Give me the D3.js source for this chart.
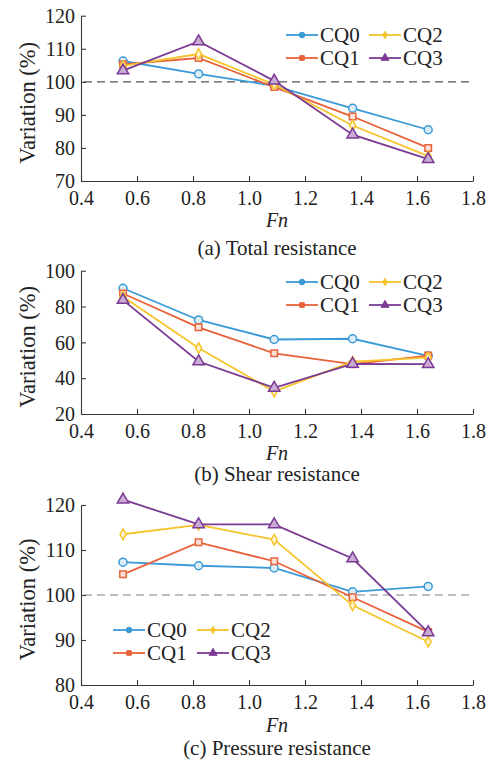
<!DOCTYPE html>
<html>
<head>
<meta charset="utf-8">
<script src="https://cdn.jsdelivr.net/npm/d3@7"></script>
<style>
  html, body { margin: 0; padding: 0; background: #fff; }
  svg { display: block; }
  svg text { font-family: "Liberation Serif", "Times New Roman", serif; fill: #222; }
</style>
</head>
<body>
<svg id="chart" width="493" height="762" font-family="Liberation Serif, serif"></svg>
<script>
// Froude numbers sampled
const fn = [0.55, 0.82, 1.09, 1.37, 1.64];
const seriesNames = ["CQ0", "CQ1", "CQ2", "CQ3"];
const xTicks = [0.4, 0.6, 0.8, 1.0, 1.2, 1.4, 1.6, 1.8];

// (a) Total resistance variation (%)
const totalCQ0 = [106.3, 102.4, 98.8, 92.0, 85.5];
const totalCQ1 = [105.3, 107.2, 98.4, 89.5, 80.0];
const totalCQ2 = [104.8, 108.4, 99.2, 86.8, 77.5];
const totalCQ3 = [103.4, 112.2, 100.3, 84.0, 76.6];
const totalTicks = [70, 80, 90, 100, 110, 120];

// (b) Shear resistance variation (%)
const shearCQ0 = [90.2, 72.5, 61.6, 62.0, 52.5];
const shearCQ1 = [87.3, 68.4, 53.9, 47.8, 52.6];
const shearCQ2 = [85.5, 56.8, 32.6, 49.2, 51.5];
const shearCQ3 = [83.6, 49.3, 34.6, 48.0, 47.8];
const shearTicks = [20, 40, 60, 80, 100];

// (c) Pressure resistance variation (%)
const pressCQ0 = [107.3, 106.5, 106.0, 100.7, 101.9];
const pressCQ1 = [104.6, 111.7, 107.5, 99.5, 91.8];
const pressCQ2 = [113.5, 115.6, 112.3, 97.7, 89.6];
const pressCQ3 = [121.2, 115.7, 115.7, 108.1, 91.7];
const pressTicks = [80, 90, 100, 110, 120];

const colors = ["#3a9ad8", "#e8623a", "#f5c42a", "#7b3a93"];
const markerFill = ["#dcedf8", "#fbe1d8", "#fdf3d2", "#c9acd4"];
const symbols = [d3.symbolCircle, d3.symbolSquare, d3.symbolDiamond, d3.symbolTriangle];
const symSizes = [50, 42, 32, 56];
const FONT = '"Liberation Serif", "Times New Roman", serif';

const panels = [
  { top: 15.7, bottom: 181, domain: [70, 120], ticks: totalTicks,
    series: [totalCQ0, totalCQ1, totalCQ2, totalCQ3],
    refLine: 100, refColor: "#555", caption: "(a) Total resistance",
    fnOff: 46, capOff: 74, legend: { x: 320, y: 35, dx: 83 } },
  { top: 270.7, bottom: 414, domain: [20, 100], ticks: shearTicks,
    series: [shearCQ0, shearCQ1, shearCQ2, shearCQ3],
    refLine: null, caption: "(b) Shear resistance",
    fnOff: 46, capOff: 67, legend: { x: 320, y: 282, dx: 83 } },
  { top: 505, bottom: 685, domain: [80, 120], ticks: pressTicks,
    series: [pressCQ0, pressCQ1, pressCQ2, pressCQ3],
    refLine: 100, refColor: "#a3adb4", caption: "(c) Pressure resistance",
    fnOff: 47, capOff: 70, legend: { x: 147, y: 630, dx: 84 } }
];

const svg = d3.select("#chart");
const x = d3.scaleLinear().domain([0.4, 1.8]).range([81, 473]);

panels.forEach(p => {
  const g = svg.append("g");
  const y = d3.scaleLinear().domain(p.domain).range([p.bottom, p.top]);

  // reference line at 100 %
  if (p.refLine !== null) {
    g.append("line")
      .attr("x1", x(0.4) + 3).attr("x2", x(1.8))
      .attr("y1", y(p.refLine)).attr("y2", y(p.refLine))
      .attr("stroke", p.refColor).attr("stroke-width", 1.3)
      .attr("stroke-dasharray", "8,5");
  }

  // axes with inward ticks
  const xAxis = d3.axisBottom(x).tickValues(xTicks).tickFormat(d3.format(".1f"))
    .tickSizeInner(-5).tickSizeOuter(0).tickPadding(7);
  const gx = g.append("g").attr("transform", `translate(0,${p.bottom})`).call(xAxis);
  const yAxis = d3.axisLeft(y).tickValues(p.ticks).tickFormat(d3.format("d"))
    .tickSizeInner(-5).tickSizeOuter(0).tickPadding(6);
  const gy = g.append("g").attr("transform", `translate(${x(0.4)},0)`).call(yAxis);
  [gx, gy].forEach(a => {
    a.attr("font-family", FONT).attr("font-size", 20);
    a.selectAll("path, line").attr("stroke", "#3a3a3a").attr("stroke-width", 1.1);
    a.selectAll("text").style("font-family", FONT)
      .style("font-size", "20px").attr("fill", "#222");
  });
  gx.selectAll("text").attr("dy", "0.85em");
  gy.selectAll("text").attr("dy", "0.34em");

  // axis titles and caption
  g.append("text")
    .attr("transform", `translate(35,${(p.top + p.bottom) / 2 + 4.5}) rotate(-90)`)
    .attr("text-anchor", "middle").style("font-size", "22.5px")
    .style("font-family", FONT).text("Variation (%)");
  g.append("text")
    .attr("x", x(1.1)).attr("y", p.bottom + p.fnOff)
    .attr("text-anchor", "middle").style("font-size", "20px")
    .style("font-family", FONT).style("font-style", "italic").text("Fn");
  g.append("text")
    .attr("x", x(1.1)).attr("y", p.bottom + p.capOff)
    .attr("text-anchor", "middle").style("font-size", "21px")
    .style("font-family", FONT).text(p.caption);

  // series lines and markers
  const line = d3.line().x((d, i) => x(fn[i])).y(d => y(d));
  p.series.forEach((vals, s) => {
    g.append("path").datum(vals)
      .attr("d", line).attr("fill", "none")
      .attr("stroke", colors[s]).attr("stroke-width", 1.8);
    g.selectAll(null).data(vals).enter().append("path")
      .attr("transform", (d, i) => `translate(${x(fn[i])},${y(d)})`)
      .attr("d", d3.symbol().type(symbols[s]).size(symSizes[s]))
      .attr("fill", markerFill[s])
      .attr("stroke", colors[s]).attr("stroke-width", 1.5);
  });

  // legend: two columns, two rows
  seriesNames.forEach((name, s) => {
    const col = Math.floor(s / 2), row = s % 2;
    const tx = p.legend.x + col * p.legend.dx, ly = p.legend.y + row * 23;
    const lg = g.append("g");
    lg.append("line").attr("x1", tx - 34).attr("x2", tx - 2)
      .attr("y1", ly).attr("y2", ly)
      .attr("stroke", colors[s]).attr("stroke-width", 1.8);
    lg.append("path").attr("transform", `translate(${tx - 18},${ly})`)
      .attr("d", d3.symbol().type(symbols[s]).size(symSizes[s] * 0.5))
      .attr("fill", colors[s]).attr("stroke", colors[s]).attr("stroke-width", 1);
    lg.append("text").attr("x", tx).attr("y", ly)
      .attr("dy", "0.35em").style("font-size", "21px")
      .style("font-family", FONT).text(name);
  });
});
</script>
</body>
</html>
